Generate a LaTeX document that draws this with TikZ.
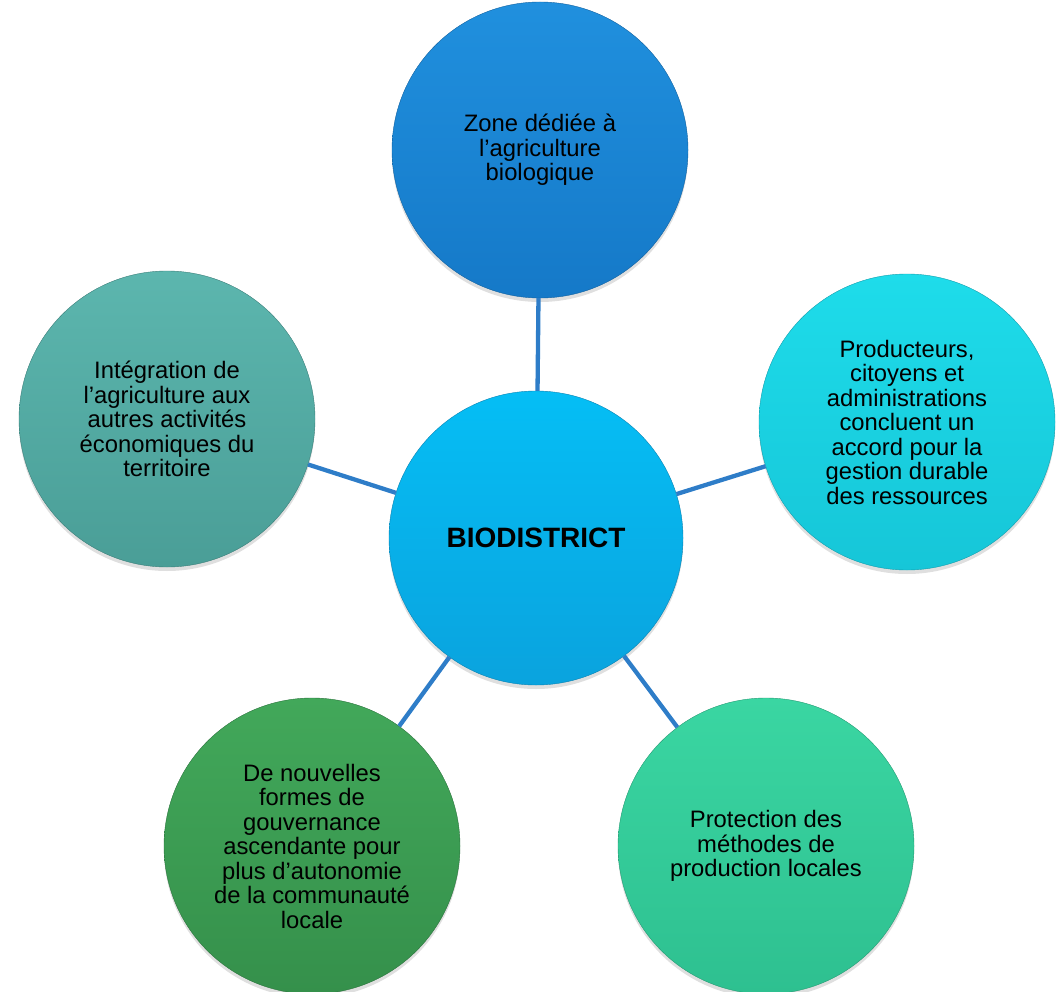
\documentclass[tikz,border=0pt]{standalone}
\usepackage{fontspec}
\setmainfont{Liberation Sans}
\usetikzlibrary{shadows}
\definecolor{linkc}{HTML}{2E7DC8}
\definecolor{ctop}{HTML}{2090DE}\definecolor{cbot}{HTML}{1579C8}
\definecolor{mtop}{HTML}{05BEF5}\definecolor{mbot}{HTML}{0AA3DE}
\definecolor{rtop}{HTML}{1EDCEA}\definecolor{rbot}{HTML}{16C6D8}
\definecolor{brtop}{HTML}{3AD6A2}\definecolor{brbot}{HTML}{2EC090}
\definecolor{bltop}{HTML}{42A85A}\definecolor{blbot}{HTML}{35904B}
\definecolor{ltop}{HTML}{5CB6AE}\definecolor{lbot}{HTML}{4A9E97}
\tikzset{
  bubble/.style={circle, minimum size=296pt, inner sep=0pt, align=center,
    font=\fontsize{23.8pt}{24.5pt}\selectfont, text=black,
    drop shadow={shadow xshift=0pt, shadow yshift=-4pt, opacity=0.25}},
  link/.style={draw=linkc, line width=4.3pt}
}
\begin{document}
\begin{tikzpicture}[x=1pt,y=-1pt]
\useasboundingbox (0,0) rectangle (1059,992);
\node[bubble, top color=mtop, bottom color=mbot, draw=mbot!80!black, minimum size=294pt,
  font=\bfseries\fontsize{28pt}{32pt}\selectfont] (c) at (536,538) {BIODISTRICT};
\node[bubble, top color=ctop, bottom color=cbot, draw=cbot!80!black] (t) at (540,150)
  {Zone dédiée à\\l’agriculture\\biologique};
\node[bubble, top color=rtop, bottom color=rbot, draw=rbot!80!black] (r) at (907,422)
  {Producteurs,\\citoyens et\\administrations\\concluent un\\accord pour la\\gestion durable\\des ressources};
\node[bubble, top color=brtop, bottom color=brbot, draw=brbot!80!black] (br) at (766,846)
  {Protection des\\méthodes de\\production locales};
\node[bubble, top color=bltop, bottom color=blbot, draw=blbot!80!black] (bl) at (312,846)
  {De nouvelles\\formes de\\gouvernance\\ascendante pour\\plus d’autonomie\\de la communauté\\locale};
\node[bubble, top color=ltop, bottom color=lbot, draw=lbot!80!black] (l) at (167,419)
  {Intégration de\\l’agriculture aux\\autres activités\\économiques du\\territoire};
\draw[link] (c) -- (t);
\draw[link] (c) -- (r);
\draw[link] (c) -- (br);
\draw[link] (c) -- (bl);
\draw[link] (c) -- (l);
\end{tikzpicture}
\end{document}
